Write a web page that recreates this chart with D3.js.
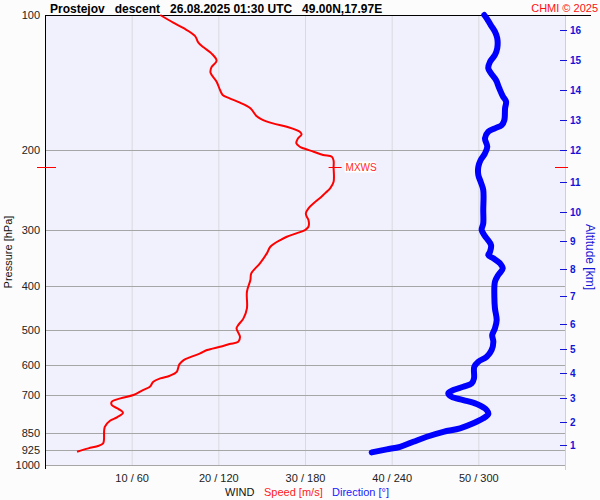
<!DOCTYPE html>
<html><head><meta charset="utf-8">
<script src="https://cdn.jsdelivr.net/npm/d3@7"></script>
<style>
body{margin:0;background:#fcfcfc;}
text{font-family:"Liberation Sans",Arial,sans-serif;}
</style>
</head><body><svg id="c" width="600" height="500"></svg>
<script>
// ---------- data ----------
const titleText = "Prostejov   descent   26.08.2025 01:30 UTC   49.00N,17.97E";
const pressureTicks = [100, 200, 300, 400, 500, 600, 700, 850, 925, 1000];
const windTicks = [10, 20, 30, 40, 50];
const windTickLabels = ["10 / 60", "20 / 120", "30 / 180", "40 / 240", "50 / 300"];
const altitudeKm = [1, 2, 3, 4, 5, 6, 7, 8, 9, 10, 11, 12, 13, 14, 15, 16];
const altitudePressure = [903, 804, 711, 626, 553, 485, 421, 366, 318, 274, 235, 200, 171, 147, 126, 108];
const mxwsPressure = 218;
const mxwsSpeed = 33.3;
// [pressure hPa, speed m/s]
const speedProfile = [
 [100,13.3],[104.0,14.8],[107.0,16.0],[111.3,17.3],[115.2,17.7],[118.0,18.3],[121.7,19.2],
 [126.4,19.8],[130.7,19.2],[134.4,19.1],[140.7,19.8],[146.8,20.2],[150.6,20.5],[153.2,21.3],
 [156.6,22.5],[161.2,23.7],[167.7,24.4],[170.5,25.0],[174.1,26.3],[177.1,27.9],[181.7,29.4],
 [184.3,29.6],[187.9,29.2],[192.8,29.0],[196.2,29.4],[197.8,29.8],[201.3,31.0],[204.7,32.1],
 [206.5,33.1],[210.8,33.3],[218.0,33.3],[234.7,33.3],[242.8,32.9],[249.1,32.3],[253.4,31.9],
 [262.1,31.0],[268.9,30.4],[275.9,30.1],[280.7,30.2],[285.5,30.4],[295.5,30.4],[300.5,30.0],
 [305.6,29.0],[311.0,27.9],[315.2,27.3],[327.3,26.0],[338.6,25.6],[356.3,24.8],[375.1,23.8],
 [388.2,23.7],[412.1,23.3],[448.6,23.3],[472.2,22.9],[488.7,22.3],[497.0,22.1],[518.8,22.5],
 [532.2,22.3],[538.5,21.3],[546.0,20.2],[555.3,18.7],[564.8,17.9],[576.5,16.7],[584.5,16.0],
 [597.5,15.5],[620.6,15.2],[633.4,14.4],[641.9,13.3],[653.1,12.5],[670.0,12.1],[681.5,11.3],
 [699.1,10.2],[711.1,8.7],[723.6,7.7],[735.9,7.7],[751.1,8.5],[765.4,9.0],[783.7,8.3],
 [797.5,7.5],[822.3,6.9],[880.2,6.8],[895.2,6.7],[906.3,6.2],[918.5,5.0],[934.6,3.7]
];
// [pressure hPa, direction deg]
const directionProfile = [
 [100,304.1],[101.7,305.8],[105.3,308.6],[108.9,311.5],[112.7,313.1],[118.6,313.1],[122.7,311.5],
 [127.0,308.1],[131.4,306.9],[134.8,308.8],[139.5,312.2],[145.5,314.5],[151.4,316.9],[155.8,319.2],
 [161.2,318.5],[171.2,318.0],[175.6,316.2],[178.6,311.5],[181.7,306.9],[187.9,304.6],[196.2,306.2],
 [203.0,304.6],[210.0,301.6],[217.4,300.0],[226.8,300.0],[234.7,301.6],[244.9,303.4],[271.3,303.4],
 [290.4,303.4],[300.5,302.3],[309.9,304.6],[313.6,305.8],[324.5,308.8],[335.8,308.1],[341.5,306.9],
 [347.3,310.4],[356.3,315.0],[365.6,316.9],[378.3,313.8],[391.5,311.5],[422.8,311.1],[448.6,311.5],
 [476.3,312.7],[497.0,311.5],[514.3,309.6],[532.3,310.4],[555.3,309.2],[574.7,305.8],[589.6,300.0],
 [604.9,297.2],[641.9,297.0],[658.5,295.4],[670.0,289.6],[681.5,282.7],[693.1,279.2],[705.3,281.5],
 [717.3,289.6],[732.1,298.9],[755.0,305.8],[770.6,306.9],[787.7,303.4],[808.1,296.5],[829.2,287.3],
 [843.7,275.8],[865.5,264.3],[887.9,255.0],[910.9,245.8],[923.1,236.6],[937.4,226.2]
];

// ---------- layout ----------
const L = 45, R = 565, T = 15, B = 465;
const svg = d3.select("#c");
const y = d3.scaleLog().domain([100, 1000]).range([T, B]);
const xs = d3.scaleLinear().domain([0, 60]).range([L, R]);
const xd = d3.scaleLinear().domain([0, 360]).range([L, R]);

svg.append("rect").attr("width", 600).attr("height", 500).attr("fill", "#fcfcfc");
svg.append("rect").attr("x", L).attr("y", T).attr("width", R - L).attr("height", B - T + 1).attr("fill", "#f1f1fe");

// vertical grid
svg.append("g").selectAll("line").data(windTicks).join("line")
  .attr("x1", d => xs(d) + 0.5).attr("x2", d => xs(d) + 0.5)
  .attr("y1", T).attr("y2", B + 1)
  .attr("stroke", "#d9d9df").attr("stroke-width", 1);

// horizontal grid
svg.append("g").selectAll("line").data(pressureTicks.slice(1)).join("line")
  .attr("x1", L).attr("x2", R)
  .attr("y1", d => Math.round(y(d)) + 0.5).attr("y2", d => Math.round(y(d)) + 0.5)
  .attr("stroke", "#a6a6a6").attr("stroke-width", 1);

// right border
svg.append("line").attr("x1", R + 0.5).attr("x2", R + 0.5).attr("y1", T).attr("y2", 470)
  .attr("stroke", "#cfcfd4");
// top border
svg.append("line").attr("x1", L).attr("x2", 591).attr("y1", T + 0.5).attr("y2", T + 0.5)
  .attr("stroke", "#000");
// left axis
svg.append("line").attr("x1", L + 0.5).attr("x2", L + 0.5).attr("y1", T).attr("y2", 469)
  .attr("stroke", "#000");

// pressure labels
svg.append("g").selectAll("text").data(pressureTicks).join("text")
  .attr("x", 40).attr("y", d => y(d) + 4)
  .attr("text-anchor", "end").attr("font-size", 11).attr("fill", "#222")
  .text(d => d);

// wind labels
svg.append("g").selectAll("text").data(windTicks).join("text")
  .attr("x", d => xs(d) + 0.5).attr("y", 482)
  .attr("text-anchor", "middle").attr("font-size", 11).attr("fill", "#222")
  .text((d, i) => windTickLabels[i]);

// x-axis title
const xt = svg.append("text").attr("y", 495.5).attr("font-size", 11);
xt.append("tspan").attr("x", 225).attr("fill", "#111").text("WIND");
xt.append("tspan").attr("x", 264).attr("fill", "#ff1a1a").text("Speed [m/s]");
xt.append("tspan").attr("x", 332).attr("fill", "#1a1aff").text("Direction [°]");

// y-axis title
svg.append("text").attr("transform", "translate(11.5,252) rotate(-90)")
  .attr("text-anchor", "middle").attr("font-size", 11).attr("fill", "#111")
  .text("Pressure [hPa]");

// altitude axis
const ag = svg.append("g");
ag.selectAll("line").data(altitudePressure).join("line")
  .attr("x1", 560).attr("x2", 567)
  .attr("y1", d => Math.round(y(d)) + 0.5).attr("y2", d => Math.round(y(d)) + 0.5)
  .attr("stroke", "#1414d8").attr("stroke-width", 1);
ag.selectAll("text").data(altitudePressure).join("text")
  .attr("x", 570).attr("y", d => y(d) + 4)
  .attr("font-size", 10).attr("font-weight", "bold").attr("fill", "#1414d8")
  .text((d, i) => altitudeKm[i]);
svg.append("text").attr("transform", "translate(585.5,257) rotate(90)")
  .attr("text-anchor", "middle").attr("font-size", 12).attr("fill", "#1414d8")
  .text("Altitude [km]");

// MXWS level ticks
const my = Math.round(y(mxwsPressure)) + 0.5;
svg.append("line").attr("x1", 37).attr("x2", 56).attr("y1", my).attr("y2", my).attr("stroke", "#ff0000");
svg.append("line").attr("x1", 555).attr("x2", 568).attr("y1", my).attr("y2", my).attr("stroke", "#ff0000");

// direction line
svg.append("path").datum(directionProfile)
  .attr("d", d3.line().x(d => xd(d[1])).y(d => y(d[0])).curve(d3.curveCatmullRom))
  .attr("fill", "none").attr("stroke", "#0000ff").attr("stroke-width", 6)
  .attr("stroke-linejoin", "round").attr("stroke-linecap", "round");

// speed line
svg.append("path").datum(speedProfile)
  .attr("d", d3.line().x(d => xs(d[1])).y(d => y(d[0])).curve(d3.curveCatmullRom))
  .attr("fill", "none").attr("stroke", "#ff0000").attr("stroke-width", 2)
  .attr("stroke-linejoin", "round");

// MXWS marker
svg.append("line").attr("x1", xs(mxwsSpeed) - 5).attr("x2", xs(mxwsSpeed) + 8)
  .attr("y1", my).attr("y2", my).attr("stroke", "#ff0000");
svg.append("rect").attr("x", xs(mxwsSpeed) + 11).attr("y", my - 6).attr("width", 31).attr("height", 11).attr("fill", "#ffffff");
svg.append("text").attr("x", xs(mxwsSpeed) + 12).attr("y", my + 3.5)
  .attr("font-size", 10).attr("fill", "#ff2a2a").text("MXWS");

// title
svg.append("text").attr("x", 50).attr("y", 12.5)
  .attr("font-size", 12).attr("font-weight", "bold").attr("fill", "#000")
  .style("white-space", "pre").text(titleText);
svg.append("text").attr("x", 598).attr("y", 11.5).attr("text-anchor", "end")
  .attr("font-size", 11).attr("fill", "#ff1010").text("CHMI © 2025");
</script>
</body></html>
